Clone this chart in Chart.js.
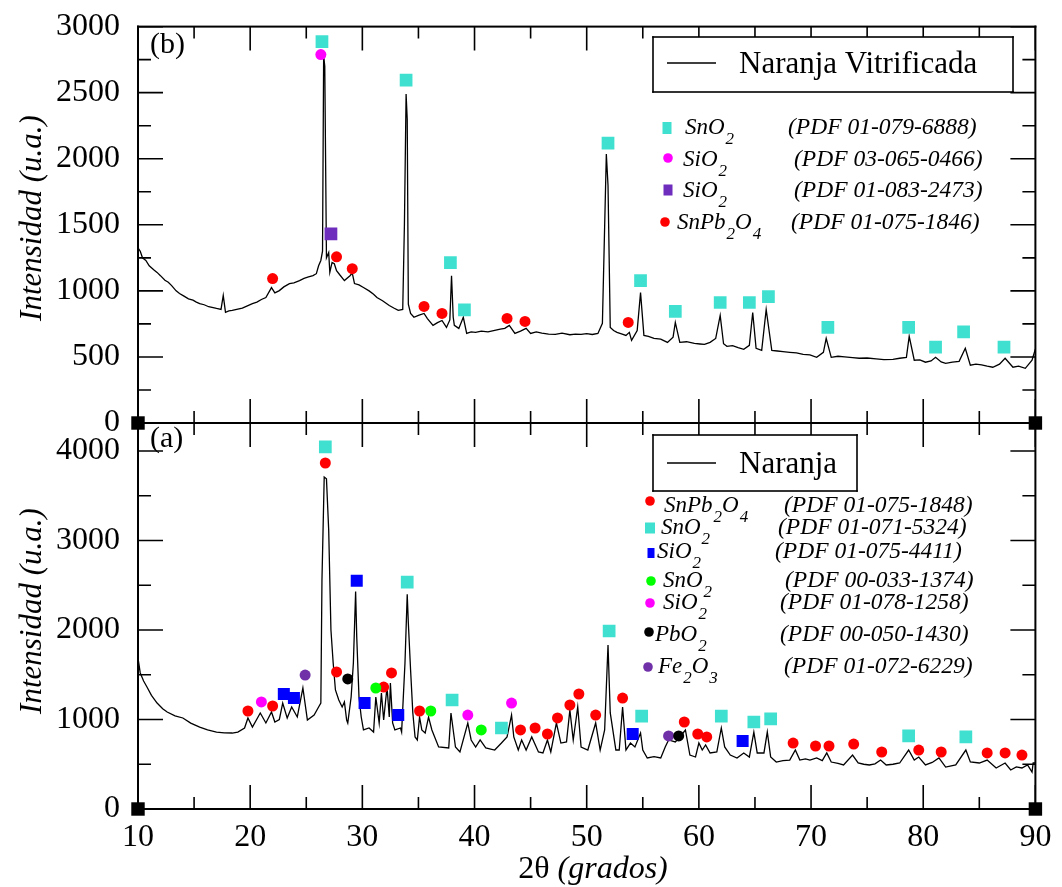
<!DOCTYPE html>
<html><head><meta charset="utf-8">
<script src="https://cdn.jsdelivr.net/npm/chart.js@4.4.1/dist/chart.umd.min.js"></script>
<style>
html,body{margin:0;padding:0;background:#fff;}
#wrap{position:relative;width:1062px;height:887px;overflow:hidden;background:#fff;}
#wrap canvas{position:absolute;left:0;top:0;}
</style></head><body>
<div id="wrap"><canvas id="cTop" width="1062" height="887"></canvas><canvas id="cBot" width="1062" height="887"></canvas></div>
<script>
// ---------- tick labels ----------
const xTickLabels = [10, 20, 30, 40, 50, 60, 70, 80, 90];
const xMinorTicks = [15, 25, 35, 45, 55, 65, 75, 85];
const topYTicks = [0, 500, 1000, 1500, 2000, 2500, 3000];
const topYMinor = [250, 750, 1250, 1750, 2250, 2750];
const botYTicks = [0, 1000, 2000, 3000, 4000];
const botYMinor = [500, 1500, 2500, 3500];

// ---------- (b) Naranja Vitrificada ----------
const topTheta = [10.0,10.2,10.4,10.7,11.0,11.4,11.7,12.0,12.4,12.7,13.0,13.4,13.7,14.1,14.5,14.9,15.2,15.5,15.9,16.3,16.6,17.0,17.4,17.6,17.8,18.1,18.4,18.8,19.3,19.7,20.2,20.6,21.0,21.4,21.9,22.2,22.6,23.0,23.5,23.9,24.4,24.8,25.2,25.6,25.9,26.1,26.3,26.45,26.55,26.65,26.8,27.0,27.1,27.3,27.5,27.7,28.0,28.4,28.9,29.1,29.3,29.7,30.1,30.6,31.0,31.3,31.8,32.4,32.8,33.2,33.6,33.75,33.9,34.0,34.1,34.3,34.6,35.0,35.5,35.8,36.3,36.7,37.1,37.5,37.8,37.95,38.1,38.2,38.6,39.0,39.3,39.7,40.1,40.6,41.2,41.8,42.3,42.7,43.1,43.6,44.1,44.6,45.0,45.5,46.0,46.6,47.2,47.8,48.5,49.0,49.5,50.0,50.5,51.0,51.4,51.75,51.9,52.1,52.4,52.7,53.1,53.5,53.8,54.0,54.5,54.8,55.1,55.5,56.0,56.6,57.2,57.7,57.9,58.3,58.9,59.6,60.1,60.5,61.0,61.5,61.9,62.2,62.5,63.0,63.5,64.0,64.5,64.8,65.1,65.6,66.0,66.5,67.0,67.5,68.1,68.7,69.3,69.9,70.5,71.1,71.35,71.8,72.4,73.0,73.7,74.3,75.0,75.8,76.5,77.3,77.9,78.5,78.75,79.2,79.7,80.2,80.7,81.1,81.6,82.0,82.6,83.2,83.75,84.2,84.7,85.2,85.7,86.2,86.8,87.3,88.0,88.5,89.1,89.7,90.0];
const topIntensity = [1326,1300,1250,1230,1190,1160,1140,1115,1080,1065,1040,1000,980,960,940,930,915,904,895,880,875,867,860,965,838,848,852,860,870,885,904,915,935,950,1025,985,1002,1030,1055,1060,1078,1095,1105,1115,1130,1190,1230,1300,2780,2700,1250,1290,1140,1215,1205,1153,1120,1078,1115,1135,1055,1045,1025,1000,975,950,925,889,870,852,860,1500,2490,2300,900,830,800,815,829,790,739,760,776,723,780,1115,800,739,716,800,678,690,686,695,690,701,710,716,739,678,695,716,678,690,680,672,671,680,668,672,671,676,670,678,754,2035,1800,723,700,686,675,663,686,625,700,987,663,655,640,635,610,650,761,610,615,602,598,595,610,640,814,600,580,585,570,558,588,836,565,550,859,550,545,540,535,530,520,515,497,535,640,497,505,500,495,490,492,485,480,482,490,497,656,475,478,460,470,497,462,452,460,467,565,437,445,440,430,422,445,490,422,430,414,475,560];

// markers (b)
const topSnO2Theta = [26.4,33.9,37.85,39.1,51.9,54.8,57.9,61.9,64.5,66.2,71.5,78.7,81.1,83.6,87.2];
const topSnO2Int   = [2886,2595,1213,856,2118,1078,844,912,912,957,723,723,575,690,575];
const topSiO2aTheta = [26.3];
const topSiO2aInt   = [2788];
const topSiO2bTheta = [27.2];
const topSiO2bInt   = [1432];
const topSnPbTheta = [22.0,27.7,29.1,35.5,37.1,42.9,44.5,53.7];
const topSnPbInt   = [1093,1258,1168,882,829,791,769,761];

// ---------- (a) Naranja ----------
const botTheta = [10.0,10.2,10.5,10.8,11.2,11.7,12.2,12.6,13.3,14.0,14.7,15.5,16.2,17.0,17.7,18.4,18.9,19.5,19.8,20.2,20.9,21.4,21.9,22.2,22.6,22.9,23.3,23.7,24.2,24.7,25.1,25.7,26.1,26.3,26.4,26.6,26.8,27.0,27.2,27.4,27.6,27.9,28.2,28.4,28.6,28.7,29.0,29.2,29.4,29.5,29.7,29.9,30.1,30.6,31.0,31.2,31.5,31.7,31.9,32.2,32.4,32.5,32.7,32.9,33.4,33.5,33.8,34.0,34.1,34.3,34.5,34.7,34.9,35.1,35.3,35.6,35.9,36.2,36.8,37.7,37.9,38.3,38.7,39.4,39.7,40.1,40.5,41.0,41.8,42.4,42.9,43.3,43.5,43.9,44.2,44.6,45.1,45.7,46.1,46.5,46.8,47.3,47.7,48.2,48.5,48.8,49.2,49.5,50.1,50.8,51.2,51.6,51.9,52.1,52.6,52.9,53.2,53.5,53.9,54.3,54.8,55.0,55.4,56.0,56.6,57.0,57.3,57.9,58.3,58.8,59.2,59.7,60.0,60.3,60.6,61.0,61.6,62.0,62.3,62.8,63.4,64.0,64.5,64.9,65.2,65.8,66.1,66.4,66.9,67.5,68.1,68.6,69.0,69.5,69.9,70.5,71.0,71.4,71.8,72.4,72.9,73.7,74.2,74.7,75.2,75.7,76.2,76.7,77.3,77.9,78.7,79.2,79.6,80.2,80.8,81.4,82.0,82.9,83.8,84.2,85.0,85.7,86.5,87.3,87.8,88.3,88.8,89.3,89.7,89.8,90.0];
const botIntensity = [1687,1520,1430,1363,1270,1184,1120,1084,1040,1017,960,916,885,860,850,849,860,905,1017,916,1073,961,1084,972,1000,1184,1017,1140,1028,1352,994,1050,1140,1184,2560,3710,3690,3117,2000,1631,1330,1218,1140,1196,994,961,1251,1631,2430,1922,1251,1028,883,905,860,1251,961,1296,994,1363,1028,1408,961,883,905,860,1631,2400,2078,1553,1073,805,771,1028,883,849,1028,883,693,682,1073,693,637,961,771,693,771,682,659,737,805,1050,805,659,771,659,805,637,626,771,637,961,737,750,1106,771,1140,693,659,961,659,883,1832,1073,659,659,1140,659,737,693,849,659,570,585,570,693,771,749,805,883,603,581,737,659,715,626,637,905,693,603,570,626,581,860,626,626,860,581,525,540,547,659,547,560,547,570,540,626,525,510,492,603,514,500,492,505,547,492,500,514,659,547,581,492,520,570,469,492,659,525,514,547,458,514,436,470,458,492,413,514,514];

// markers (a)
const botSnPbTheta = [26.7,19.8,22.0,27.7,31.9,32.6,35.1,44.1,45.4,46.5,47.4,48.5,49.3,50.8,53.2,58.7,59.9,60.7,68.4,70.4,71.6,73.8,76.3,79.6,81.6,85.7,87.3,88.8];
const botSnPbInt   = [3866,1095,1151,1531,1363,1520,1095,883,905,838,1017,1162,1285,1050,1240,972,838,805,737,704,704,726,637,659,637,626,626,603];
const botSnO2Theta = [26.7,34.0,38.0,42.4,52.0,54.9,62.0,64.9,66.4,78.7,83.8];
const botSnO2Int   = [4045,2536,1218,905,1989,1039,1039,972,1006,816,805];
const botSiO2aTheta = [23.0,23.9,29.5,30.2,33.2,54.1,63.9];
const botSiO2aInt   = [1285,1240,2550,1184,1050,838,760];
const botSnO2gTheta = [31.2,36.1,40.6];
const botSnO2gInt   = [1352,1095,883];
const botSiO2mTheta = [21.0,39.4,43.3];
const botSiO2mInt   = [1196,1050,1184];
const botPbO2Theta = [28.7,58.2];
const botPbO2Int   = [1453,816];
const botFe2O3Theta = [24.9,57.3];
const botFe2O3Int   = [1497,816];

// ---------- styling ----------
const SERIF = '"Liberation Serif","Times New Roman",serif';
const C_CYAN = '#40e0d0', C_MAG = '#ff00ff', C_PUR = '#6f2dbd', C_RED = '#ff0000',
      C_BLUE = '#0000ff', C_GREEN = '#00ff00', C_BLACK = '#000000', C_FE = '#7030a8';

function pts(xs, ys) { return xs.map((x, i) => ({x: x, y: ys[i]})); }
function curve(xs, ys) {
  return {data: pts(xs, ys), showLine: true, pointRadius: 0, pointHoverRadius: 0,
          borderColor: '#000', borderWidth: 1.3, tension: 0, order: 5};
}
function markers(xs, ys, color, style, r) {
  return {data: pts(xs, ys), showLine: false, pointStyle: style, pointRadius: r,
          pointHoverRadius: r, backgroundColor: color, borderColor: color, borderWidth: 0, order: 0};
}
function corners() {
  return {data: [{x: 10, y: 0}, {x: 90, y: 0}], showLine: false, pointStyle: 'rect',
          pointRadius: 9.5, backgroundColor: '#000', borderColor: '#000', borderWidth: 0, clip: false, order: 0};
}
// inward tick marks drawn by the library as 'line' points, clipped to the plot area
function tickMarks(points, len, rot) {
  return {data: points, showLine: false, pointStyle: 'line', pointRadius: len, pointHoverRadius: len,
          pointRotation: rot, borderColor: '#000', backgroundColor: '#000', borderWidth: 1.6,
          clip: 0, order: 2};
}
function tickSets(yMax, yMaj, yMin) {
  const xEdge = v => [{x: v, y: 0}, {x: v, y: yMax}];
  const yEdge = v => [{x: 10, y: v}, {x: 90, y: v}];
  return [
    tickMarks([].concat(...xTickLabels.map(xEdge)), 24, 90),
    tickMarks([].concat(...xMinorTicks.map(xEdge)), 12, 90),
    tickMarks([].concat(...yMaj.map(yEdge)), 25, 0),
    tickMarks([].concat(...yMin.map(yEdge)), 13, 0)
  ];
}

function drawRich(ctx, s, x, y, size, italic) {
  const parts = [];
  let i = 0, buf = '';
  while (i < s.length) {
    if (s[i] === '_') { if (buf) parts.push({t: buf, sub: false}); buf = ''; parts.push({t: s[i + 1], sub: true}); i += 2; }
    else { buf += s[i]; i++; }
  }
  if (buf) parts.push({t: buf, sub: false});
  const it = italic ? 'italic ' : '';
  const fMain = it + size + 'px ' + SERIF, fSub = it + Math.round(size * 0.72) + 'px ' + SERIF;
  let cx = x;
  ctx.textAlign = 'left'; ctx.textBaseline = 'alphabetic'; ctx.fillStyle = '#000';
  parts.forEach(g => {
    ctx.font = g.sub ? fSub : fMain;
    const w = ctx.measureText(g.t).width;
    ctx.fillText(g.t, cx + (g.sub ? 1 : 0), y + (g.sub ? size * 0.42 : 0));
    cx += w + (g.sub ? 1 : 0);
  });
}

const yTitle = yc => ({x: 41, y: yc, rot: -Math.PI / 2, align: 'center',
  parts: [{s: 'Intensidad (u.a.)', f: 'italic 31px ' + SERIF}]});

const decorCfg = {
  cTop: {
    box: {x: 653, y: 37, w: 360, h: 55, ly: 63, label: 'Naranja Vitrificada', tx: 739, tb: 73},
    entries: [
      {m: 'r', c: C_CYAN, mx: 667, my: 128, w: 9, h: 12, name: 'SnO_2', nx: 685, pdf: '(PDF 01-079-6888)', px: 788, base: 134},
      {m: 'c', c: C_MAG, mx: 668, my: 158, name: 'SiO_2', nx: 683, pdf: '(PDF 03-065-0466)', px: 794, base: 166},
      {m: 'r', c: C_PUR, mx: 668, my: 190, w: 9, h: 11, name: 'SiO_2', nx: 683, pdf: '(PDF 01-083-2473)', px: 794, base: 197},
      {m: 'c', c: C_RED, mx: 665, my: 222, name: 'SnPb_2O_4', nx: 677, pdf: '(PDF 01-075-1846)', px: 791, base: 229}
    ],
    texts: [
      yTitle(218),
      {x: 150, y: 53, parts: [{s: '(b)', f: '30px ' + SERIF}]}
    ]
  },
  cBot: {
    box: {x: 653, y: 435, w: 204, h: 56, ly: 463, label: 'Naranja', tx: 739, tb: 473},
    entries: [
      {m: 'c', c: C_RED, mx: 650, my: 501, name: 'SnPb_2O_4', nx: 664, pdf: '(PDF 01-075-1848)', px: 784, base: 512},
      {m: 'r', c: C_CYAN, mx: 650, my: 528, w: 10, h: 11, name: 'SnO_2', nx: 661, pdf: '(PDF 01-071-5324)', px: 778, base: 534},
      {m: 'r', c: C_BLUE, mx: 651, my: 553, w: 7, h: 10, name: 'SiO_2', nx: 657, pdf: '(PDF 01-075-4411)', px: 775, base: 558},
      {m: 'c', c: C_GREEN, mx: 651, my: 581, name: 'SnO_2', nx: 663, pdf: '(PDF 00-033-1374)', px: 785, base: 587},
      {m: 'c', c: C_MAG, mx: 650, my: 603, name: 'SiO_2', nx: 663, pdf: '(PDF 01-078-1258)', px: 780, base: 609},
      {m: 'c', c: C_BLACK, mx: 649, my: 632, name: 'PbO_2', nx: 655, pdf: '(PDF 00-050-1430)', px: 780, base: 641},
      {m: 'c', c: C_FE, mx: 648, my: 667, name: 'Fe_2O_3', nx: 658, pdf: '(PDF 01-072-6229)', px: 784, base: 673}
    ],
    texts: [
      yTitle(611),
      {x: 150, y: 447, parts: [{s: '(a)', f: '30px ' + SERIF}]},
      {x: 593, y: 878, align: 'center', parts: [{s: '2\u03b8 ', f: '32px ' + SERIF}, {s: '(grados)', f: 'italic 32px ' + SERIF}]}
    ]
  }
};

const decor = {
  id: 'decor',
  afterDraw(chart) {
    const o = decorCfg[chart.canvas.id];
    const ctx = chart.ctx, a = chart.chartArea;
    ctx.save();
    ctx.fillStyle = '#000';
    // frame
    ctx.fillRect(a.left - 1, a.top - 1, a.right - a.left + 2, 2);
    ctx.fillRect(a.left - 1, a.bottom - 1, a.right - a.left + 2, 2);
    ctx.fillRect(a.left - 1, a.top - 1, 2, a.bottom - a.top + 2);
    ctx.fillRect(a.right - 1, a.top - 1, 2, a.bottom - a.top + 2);
    // legend box
    const b = o.box;
    ctx.fillStyle = '#fff';
    ctx.fillRect(b.x, b.y, b.w, b.h);
    ctx.fillStyle = '#000';
    ctx.fillRect(b.x - 0.8, b.y - 0.8, b.w + 1.6, 1.6);
    ctx.fillRect(b.x - 0.8, b.y + b.h - 0.8, b.w + 1.6, 1.6);
    ctx.fillRect(b.x - 0.8, b.y - 0.8, 1.6, b.h + 1.6);
    ctx.fillRect(b.x + b.w - 0.8, b.y - 0.8, 1.6, b.h + 1.6);
    ctx.fillRect(b.x + 14, b.ly - 0.75, 49, 1.5);
    ctx.font = '31px ' + SERIF; ctx.textAlign = 'left'; ctx.textBaseline = 'alphabetic';
    ctx.fillText(b.label, b.tx, b.tb);
    // legend entries
    o.entries.forEach(e => {
      ctx.fillStyle = e.c;
      if (e.m === 'c') { ctx.beginPath(); ctx.arc(e.mx, e.my, 4.8, 0, Math.PI * 2); ctx.fill(); }
      else { ctx.fillRect(e.mx - e.w / 2, e.my - e.h / 2, e.w, e.h); }
      drawRich(ctx, e.name, e.nx, e.base, 23, true);
      drawRich(ctx, e.pdf, e.px, e.base, 23.5, true);
    });
    // free texts
    o.texts.forEach(t => {
      ctx.save();
      ctx.fillStyle = '#000';
      ctx.translate(t.x, t.y);
      if (t.rot) ctx.rotate(t.rot);
      let w = 0;
      t.parts.forEach(p => { ctx.font = p.f; w += ctx.measureText(p.s).width; });
      let cx = t.align === 'center' ? -w / 2 : 0;
      ctx.textAlign = 'left'; ctx.textBaseline = 'alphabetic';
      t.parts.forEach(p => { ctx.font = p.f; ctx.fillText(p.s, cx, 0); cx += ctx.measureText(p.s).width; });
      ctx.restore();
    });
    ctx.restore();
  }
};

function baseOptions(padTop, xHeight, yMax, yTickVals, showX) {
  return {
    responsive: false, animation: false, events: [],
    layout: {padding: {top: padTop, right: 22, left: 0, bottom: 0}},
    plugins: {legend: {display: false}, tooltip: {enabled: false}},
    scales: {
      x: {type: 'linear', min: 10, max: 90,
          grid: {display: false, drawTicks: false}, border: {display: false},
          ticks: {display: showX, color: '#000', font: {family: SERIF, size: 32}, padding: 9,
                  callback: v => String(v)},
          afterBuildTicks: s => { s.ticks = xTickLabels.map(v => ({value: v})); },
          afterFit: s => { s.height = xHeight; s.paddingLeft = 0; s.paddingRight = 0; }},
      y: {type: 'linear', min: 0, max: yMax,
          grid: {display: false, drawTicks: false}, border: {display: false},
          ticks: {color: '#000', font: {family: SERIF, size: 32}, padding: 18,
                  callback: v => String(v)},
          afterBuildTicks: s => { s.ticks = yTickVals.map(v => ({value: v})); },
          afterFit: s => { s.width = 138; s.paddingTop = 0; s.paddingBottom = 0; }}
    }
  };
}

new Chart(document.getElementById('cTop'), {
  type: 'scatter',
  data: {datasets: [
    corners(),
    markers(topSiO2aTheta, topSiO2aInt, C_MAG, 'circle', 5.5),
    markers(topSnO2Theta, topSnO2Int, C_CYAN, 'rect', 9),
    markers(topSiO2bTheta, topSiO2bInt, C_PUR, 'rect', 9),
    markers(topSnPbTheta, topSnPbInt, C_RED, 'circle', 5.5),
    ...tickSets(3000, topYTicks, topYMinor),
    curve(topTheta, topIntensity)
  ]},
  options: baseOptions(25, 464, 3000, topYTicks, false),
  plugins: [decor]
});

new Chart(document.getElementById('cBot'), {
  type: 'scatter',
  data: {datasets: [
    corners(),
    markers(botSnO2Theta, botSnO2Int, C_CYAN, 'rect', 9),
    markers(botSiO2aTheta, botSiO2aInt, C_BLUE, 'rect', 8.5),
    markers(botSnO2gTheta, botSnO2gInt, C_GREEN, 'circle', 5.5),
    markers(botSiO2mTheta, botSiO2mInt, C_MAG, 'circle', 5.5),
    markers(botPbO2Theta, botPbO2Int, C_BLACK, 'circle', 5.5),
    markers(botFe2O3Theta, botFe2O3Int, C_FE, 'circle', 5.5),
    markers(botSnPbTheta, botSnPbInt, C_RED, 'circle', 5.5),
    ...tickSets(4313, botYTicks, botYMinor),
    curve(botTheta, botIntensity)
  ]},
  options: baseOptions(423, 78, 4313, botYTicks, true),
  plugins: [decor]
});
</script>
</body></html>
